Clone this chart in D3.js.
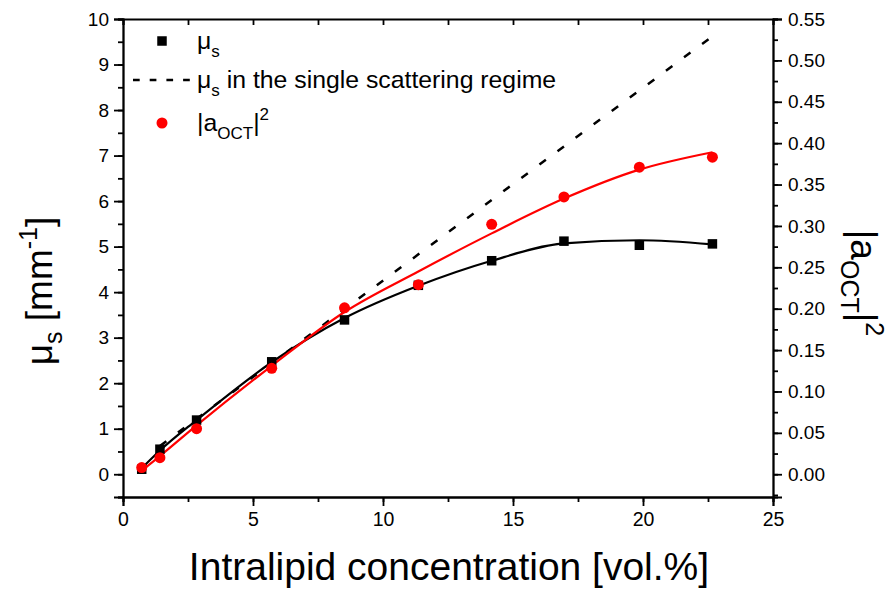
<!DOCTYPE html>
<html><head><meta charset="utf-8">
<script src="https://cdn.jsdelivr.net/npm/d3@7/dist/d3.min.js"></script>
<style>
body{margin:0;background:#fff;}
svg{display:block;font-family:"Liberation Sans",Arial,sans-serif;}
</style>
</head><body>
<svg id="chart" width="895" height="590"></svg>
<script>
// ---- data ----
const concentration = [0.72, 1.42, 2.83, 5.72, 8.52, 11.36, 14.18, 16.96, 19.86, 22.67];
const muS   = [0.11, 0.55, 1.19, 2.47, 3.39, 4.15, 4.69, 5.12, 5.03, 5.06];
const aOct2 = [0.008, 0.020, 0.055, 0.128, 0.201, 0.229, 0.302, 0.335, 0.371, 0.383];
const fitX     = [0.72, 1.42, 2.83, 5.72, 8.52, 11.36, 14.18, 16.96, 19.86, 22.67];
const muSFit   = [0.13, 0.52, 1.19, 2.46, 3.43, 4.14, 4.69, 5.07, 5.14, 5.05];
const aOct2Fit = [0.0044, 0.022, 0.059, 0.131, 0.196, 0.245, 0.291, 0.333, 0.368, 0.389];
const singleX   = [1.42, 22.67];
const singleMuS = [0.62, 9.62];
const xTicks = [0, 5, 10, 15, 20, 25];
const yLeftTicks = [0, 1, 2, 3, 4, 5, 6, 7, 8, 9, 10];
const yRightTicks = [0, 0.05, 0.10, 0.15, 0.20, 0.25, 0.30, 0.35, 0.40, 0.45, 0.50, 0.55];

const svg = d3.select("#chart");
const L = 123, R = 773, T = 19, B = 497;
const x = d3.scaleLinear().domain([0, 25]).range([L, R]);
const yL = d3.scaleLinear().domain([-0.5, 10]).range([B, T]);
const yR = d3.scaleLinear().domain([-0.0275, 0.55]).range([B, T]);

const AX = 1.8;
function minor(axisGen, values, size){ return axisGen.tickValues(values).tickSize(size).tickFormat(""); }
const xMinor = d3.range(0, 25.01, 2.5);
const yLMinor = d3.range(-0.5, 10.01, 0.5);
const yRMinor = d3.range(-0.025, 0.551, 0.025);

function styleAxis(g){
  g.selectAll("path.domain").attr("stroke","#000").attr("stroke-width",AX);
  g.selectAll(".tick line").attr("stroke","#000").attr("stroke-width",AX);
}
function styleText(size){
  return g=>g.selectAll("text").attr("font-size",size).attr("font-family","Liberation Sans, Arial, sans-serif").attr("fill","#000");
}
// bottom
svg.append("g").attr("transform",`translate(0,${B})`).call(minor(d3.axisBottom(x), xMinor, 5)).call(styleAxis);
svg.append("g").attr("transform",`translate(0,${B})`).call(d3.axisBottom(x).tickValues(xTicks).tickSize(9).tickPadding(6).tickFormat(d3.format("d")))
  .call(styleAxis).call(styleText(19.5));
// top
svg.append("g").attr("transform",`translate(0,${T})`).call(minor(d3.axisBottom(x), xMinor, 6)).call(styleAxis);
// left
svg.append("g").attr("transform",`translate(${L},0)`).call(minor(d3.axisLeft(yL), yLMinor, 5)).call(styleAxis);
svg.append("g").attr("transform",`translate(${L},0)`).call(d3.axisLeft(yL).tickValues(yLeftTicks).tickSize(9).tickPadding(5).tickFormat(d3.format("d")))
  .call(styleAxis).call(styleText(19));
// right
svg.append("g").attr("transform",`translate(${R},0)`).call(minor(d3.axisRight(yR), yRMinor, 5)).call(styleAxis);
svg.append("g").attr("transform",`translate(${R},0)`).call(d3.axisRight(yR).tickValues(yRightTicks).tickSize(9).tickPadding(6).tickFormat(d3.format(".2f")))
  .call(styleAxis).call(styleText(19));

// dashed single scattering line
const lineL = d3.line().x(d=>x(d[0])).y(d=>yL(d[1]));
svg.append("path").attr("d", lineL(d3.zip(singleX, singleMuS)))
  .attr("fill","none").attr("stroke","#000").attr("stroke-width",2.5).attr("stroke-dasharray","8,14.5");

// fit curves
svg.append("path").attr("d", d3.line().curve(d3.curveMonotoneX).x(d=>x(d[0])).y(d=>yL(d[1]))(d3.zip(fitX, muSFit)))
  .attr("fill","none").attr("stroke","#000").attr("stroke-width",2.2);
svg.append("path").attr("d", d3.line().curve(d3.curveMonotoneX).x(d=>x(d[0])).y(d=>yR(d[1]))(d3.zip(fitX, aOct2Fit)))
  .attr("fill","none").attr("stroke","#f00").attr("stroke-width",2.2);

// markers
const S = 9.5;
svg.append("g").selectAll("rect").data(d3.zip(concentration, muS)).join("rect")
  .attr("x", d=>x(d[0])-S/2).attr("y", d=>yL(d[1])-S/2).attr("width",S).attr("height",S).attr("fill","#000");
svg.append("g").selectAll("circle").data(d3.zip(concentration, aOct2)).join("circle")
  .attr("cx", d=>x(d[0])).attr("cy", d=>yR(d[1])).attr("r",5.5).attr("fill","#f00");

// legend
const lg = svg.append("g").attr("font-size",24.8).attr("fill","#000");
lg.append("rect").attr("x",162-S/2).attr("y",41-S/2).attr("width",S).attr("height",S).attr("fill","#000");
const t1 = lg.append("text").attr("x",197).attr("y",49);
t1.append("tspan").text("μ");
t1.append("tspan").attr("font-size",17).attr("dy",8).text("s");
lg.append("line").attr("x1",133).attr("x2",190).attr("y1",80).attr("y2",80)
  .attr("stroke","#000").attr("stroke-width",2.5).attr("stroke-dasharray","6.7,10");
const t2 = lg.append("text").attr("x",197).attr("y",88);
t2.append("tspan").text("μ");
t2.append("tspan").attr("font-size",17).attr("dy",8).text("s");
t2.append("tspan").attr("dy",-8).text(" in the single scattering regime");
lg.append("circle").attr("cx",162).attr("cy",123).attr("r",5.5).attr("fill","#f00");
const t3 = lg.append("text").attr("x",197).attr("y",131);
t3.append("tspan").text("|a");
t3.append("tspan").attr("font-size",17).attr("dy",8).text("OCT");
t3.append("tspan").attr("dy",-8).text("|");
t3.append("tspan").attr("font-size",17).attr("dy",-11).text("2");

// axis titles
svg.append("text").attr("x",449).attr("y",580).attr("text-anchor","middle").attr("font-size",39).attr("fill","#000")
  .text("Intralipid concentration [vol.%]");

const yt = svg.append("text").attr("transform","translate(52,291) rotate(-90)").attr("text-anchor","middle").attr("font-size",37).attr("fill","#000");
yt.append("tspan").text("μ");
yt.append("tspan").attr("font-size",25).attr("dy",10).text("s");
yt.append("tspan").attr("dy",-10).text(" [mm");
yt.append("tspan").attr("font-size",25).attr("dy",-15).text("-1");
yt.append("tspan").attr("dy",15).text("]");

const rt = svg.append("text").attr("transform","translate(851,283) rotate(90)").attr("text-anchor","middle").attr("font-size",37).attr("fill","#000");
rt.append("tspan").text("|a");
rt.append("tspan").attr("font-size",25).attr("dy",10).text("OCT");
rt.append("tspan").attr("dy",-10).text("|");
rt.append("tspan").attr("font-size",25).attr("dy",-15).text("2");
</script>
</body></html>
